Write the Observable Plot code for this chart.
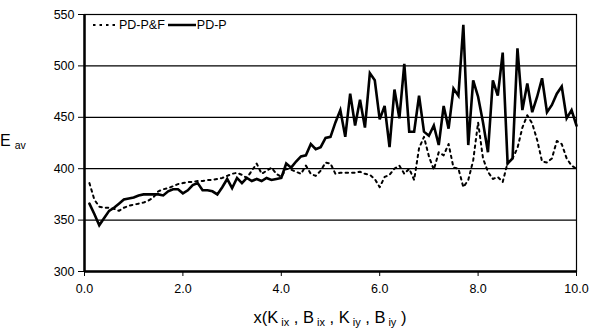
<!DOCTYPE html>
<html>
<head>
<meta charset="utf-8">
<script src="https://cdn.jsdelivr.net/npm/d3@7"></script>
<script src="https://cdn.jsdelivr.net/npm/@observablehq/plot@0.6"></script>
<style>
  html, body { margin: 0; padding: 0; background: #fff; }
  #wrap { position: relative; width: 598px; height: 332px; font-family: "Liberation Sans", Arial, sans-serif; }
  #legend { position: absolute; left: 92px; top: 18px; font-size: 12.5px; display: flex; align-items: center; color: #000; }
  #legend span { margin: 0 3px 0 3px; }
</style>
</head>
<body>
<div id="wrap">
  <div id="chart"></div>
  <div id="legend">
    <svg width="24" height="10"><line x1="1" y1="5" x2="24" y2="5" stroke="#000" stroke-width="2" stroke-dasharray="2.5,4"/></svg>
    <span>PD-P&amp;F</span>
    <svg width="28" height="10"><line x1="0" y1="5" x2="28" y2="5" stroke="#000" stroke-width="2.5"/></svg>
    <span style="margin-left:1px">PD-P</span>
  </div>
</div>
<script>
const seriesNames = ["PD-P&F", "PD-P"];
const xValues = d3.range(1, 101).map(i => i / 10);
const pdP = [
  366,356,345,352,359,362,366,370,371,372,
  374,375,375,375,375,374,378,380,380,376,
  379,384,386,379,379,378,375,382,390,381,
  391,386,391,388,390,388,391,389,390,391,
  405,401,407,412,413,424,419,421,430,431,
  445,457,431,473,442,467,440,493,486,448,
  461,421,477,449,502,436,436,471,436,432,
  442,423,461,439,478,471,540,423,486,470,
  445,416,486,471,513,405,410,517,457,483,
  455,470,488,455,462,473,480,449,457,442
];
const pdPF = [
  386,370,363,362,362,361,359,362,364,365,
  366,367,369,372,378,380,381,383,385,386,
  387,387,388,388,389,389,390,391,393,395,
  396,394,391,398,405,395,398,401,395,392,
  400,399,397,395,403,395,393,398,406,405,
  395,396,396,396,396,397,395,394,390,382,
  392,394,400,403,395,400,389,420,431,412,
  399,416,413,424,401,400,382,389,408,445,
  410,397,390,392,387,406,410,420,440,452,
  444,428,407,406,410,427,424,410,403,400
];
const xTicks = [0, 2, 4, 6, 8, 10];
const yTicks = [300, 350, 400, 450, 500, 550];
const gridValues = [350, 400, 450, 500];

const rows = [];
xValues.forEach((x, i) => {
  rows.push({x, y: pdPF[i], s: seriesNames[0]});
  rows.push({x, y: pdP[i], s: seriesNames[1]});
});

const chart = Plot.plot({
  width: 598,
  height: 332,
  marginLeft: 84,
  marginRight: 22,
  marginTop: 14,
  marginBottom: 61,
  style: {fontFamily: "'Liberation Sans', Arial, sans-serif", fontSize: "12.5px", color: "#000", background: "#fff"},
  x: {domain: [0, 10], ticks: xTicks, tickFormat: d3.format(".1f"), label: null, tickSize: 5, tickPadding: 8},
  y: {domain: [300, 550], ticks: yTicks, label: null, tickSize: 6, tickPadding: 4},
  marks: [
    Plot.ruleY(gridValues, {stroke: "#000", strokeWidth: 1.2}),
    Plot.frame({stroke: "#000", strokeWidth: 1.2}),
    Plot.ruleX([0], {stroke: "#000", strokeWidth: 2.5}),
    Plot.ruleY([300], {stroke: "#000", strokeWidth: 2.5}),
    Plot.line(rows.filter(d => d.s === seriesNames[0]), {x: "x", y: "y", stroke: "#000", strokeWidth: 2, strokeDasharray: "2.5,4"}),
    Plot.line(rows.filter(d => d.s === seriesNames[1]), {x: "x", y: "y", stroke: "#000", strokeWidth: 2.6, strokeLinejoin: "miter", strokeMiterlimit: 4})
  ]
});
document.getElementById("chart").appendChild(chart);

const svg = d3.select(chart);
svg.selectAll("[aria-label='x-axis tick label'] text, [aria-label='y-axis tick label'] text").attr("fill", "#000");

// y axis label E_av
const yl = svg.append("text")
  .attr("x", 13).attr("y", 146)
  .attr("font-family", "'Liberation Sans', Arial, sans-serif")
  .attr("fill", "#000");
yl.append("tspan").attr("font-size", 16).text("E");
yl.append("tspan").attr("font-size", 10.5).attr("dx", 4).attr("dy", 3).text("av");

// x axis label
const parts = [["x(K", false], ["ix", true], [" , B", false], ["ix", true], [" , K", false], ["iy", true], [" , B", false], ["iy", true], [" )", false]];
const xl = svg.append("text")
  .attr("x", 330).attr("y", 323)
  .attr("text-anchor", "middle")
  .attr("font-family", "'Liberation Sans', Arial, sans-serif")
  .attr("fill", "#000")
  .attr("style", "white-space: pre");
let prevSub = false;
parts.forEach(([t, sub]) => {
  const ts = xl.append("tspan").text(t);
  if (sub) {
    ts.attr("font-size", 11).attr("dy", 3).attr("dx", 3);
  } else {
    ts.attr("font-size", 16.5);
    if (prevSub) ts.attr("dy", -3);
  }
  prevSub = sub;
});
</script>
</body>
</html>
